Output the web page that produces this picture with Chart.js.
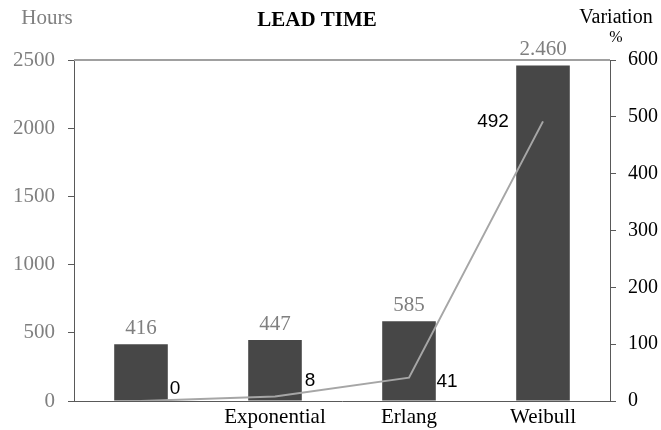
<!DOCTYPE html>
<html>
<head>
<meta charset="utf-8">
<script src="https://cdn.jsdelivr.net/npm/chart.js@4/dist/chart.umd.min.js"></script>
<style>
  html, body { margin: 0; padding: 0; background: #fff; }
  #wrap { width: 661px; height: 430px; }
</style>
</head>
<body>
<div id="wrap"><canvas id="chart"></canvas></div>
<script>
// data
const categories = ['', 'Exponential', 'Erlang', 'Weibull'];
const hours = [416, 447, 585, 2460];
const variation = [0, 8, 41, 492];
const hoursTicks = [0, 500, 1000, 1500, 2000, 2500];
const variationTicks = [0, 100, 200, 300, 400, 500, 600];

const serif = '"Liberation Serif", "Times New Roman", serif';
const sans = '"Liberation Sans", Arial, sans-serif';

// where Excel put the line labels, relative to the point
const lineLabelShift = [[34, -12], [35, -16], [38, 4], [-50, 0]];

const decorPlugin = {
  id: 'decor',
  afterDraw(chart) {
    const ctx = chart.ctx;
    const area = chart.chartArea;
    ctx.save();

    // top border line
    ctx.strokeStyle = '#a0a0a0';
    ctx.lineWidth = 2;
    ctx.beginPath();
    ctx.moveTo(area.left, area.top);
    ctx.lineTo(area.right, area.top);
    ctx.stroke();

    // titles
    ctx.textBaseline = 'middle';
    ctx.textAlign = 'center';
    ctx.fillStyle = '#000';
    ctx.font = 'bold 21px ' + serif;
    ctx.fillText('LEAD TIME', 317, 21);
    ctx.font = '21px ' + serif;
    ctx.fillStyle = '#808080';
    ctx.fillText('Hours', 47, 18);
    ctx.fillStyle = '#000';
    ctx.font = '20px ' + serif;
    ctx.fillText('Variation', 616, 18);
    ctx.font = '16px ' + serif;
    ctx.fillText('%', 616, 38);

    // bar value labels
    const bars = chart.getDatasetMeta(0).data;
    ctx.font = '21px ' + serif;
    ctx.fillStyle = '#7f7f7f';
    ctx.textBaseline = 'alphabetic';
    bars.forEach((b, i) => {
      ctx.fillText(hours[i].toLocaleString('de-DE'), b.x, b.y - 10);
    });

    // line value labels
    const pts = chart.getDatasetMeta(1).data;
    ctx.font = '19px ' + sans;
    ctx.fillStyle = '#000';
    ctx.textBaseline = 'middle';
    pts.forEach((p, i) => {
      const s = lineLabelShift[i];
      ctx.fillText(String(variation[i]), p.x + s[0], p.y + s[1]);
    });
    ctx.restore();
  }
};

new Chart(document.getElementById('chart'), {
  data: {
    labels: categories,
    datasets: [
      {
        type: 'bar',
        data: hours,
        yAxisID: 'y',
        backgroundColor: '#474747',
        barPercentage: 0.8,
        categoryPercentage: 0.5,
        order: 2
      },
      {
        type: 'line',
        data: variation,
        yAxisID: 'y1',
        borderColor: '#a6a6a6',
        borderWidth: 2,
        pointRadius: 0,
        tension: 0,
        order: 1
      }
    ]
  },
  options: {
    responsive: true,
    maintainAspectRatio: false,
    animation: false,
    layout: { padding: { top: 60, left: 0, right: 0, bottom: 0 } },
    plugins: { legend: { display: false }, tooltip: { enabled: false } },
    scales: {
      x: {
        grid: { display: false },
        border: { color: '#595959', width: 1 },
        ticks: { color: '#000', font: { family: serif, size: 21 }, padding: -4, autoSkip: false, maxRotation: 0 },
        afterFit(s) { s.height = 29; }
      },
      y: {
        position: 'left',
        min: 0, max: 2500,
        afterBuildTicks(s) { s.ticks = hoursTicks.map(v => ({ value: v })); },
        grid: { drawOnChartArea: false, tickLength: 6, color: '#595959' },
        border: { color: '#595959', width: 1 },
        ticks: { color: '#7f7f7f', font: { family: serif, size: 21 }, padding: 13, callback: v => String(v) },
        afterFit(s) { s.width = 74; }
      },
      y1: {
        position: 'right',
        min: 0, max: 600,
        afterBuildTicks(s) { s.ticks = variationTicks.map(v => ({ value: v })); },
        grid: { drawOnChartArea: false, tickLength: 6, color: '#595959' },
        border: { color: '#595959', width: 1 },
        ticks: { color: '#000', font: { family: serif, size: 20 }, padding: 12, callback: v => String(v) },
        afterFit(s) { s.width = 51; }
      }
    }
  },
  plugins: [decorPlugin]
});
</script>
</body>
</html>
